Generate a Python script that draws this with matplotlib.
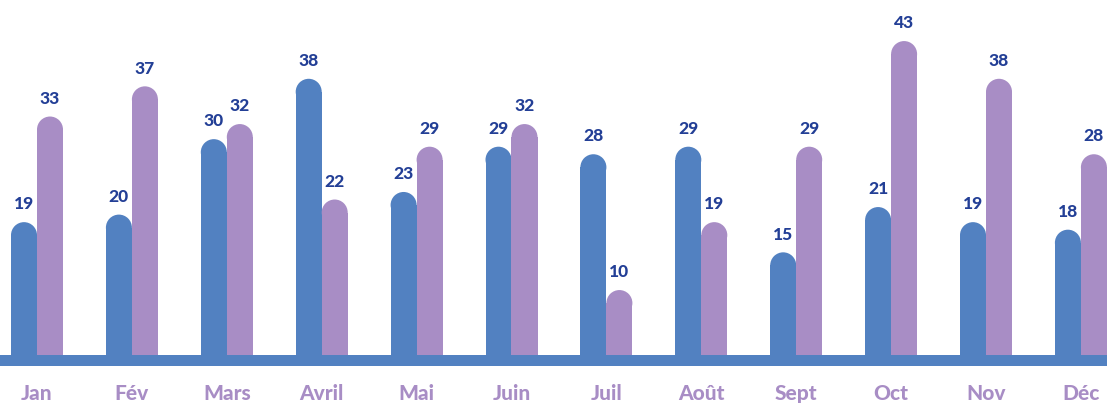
import matplotlib.pyplot as plt
from matplotlib.patches import Ellipse

months = ['Jan', 'Fév', 'Mars', 'Avril', 'Mai', 'Juin', 'Juil', 'Août', 'Sept', 'Oct', 'Nov', 'Déc']
serie_bleue = [19, 20, 30, 38, 23, 29, 28, 29, 15, 21, 19, 18]
serie_violette = [33, 37, 32, 22, 29, 32, 10, 19, 29, 43, 38, 28]

bleu = '#5281c1'
violet = '#a88dc5'
marine = '#233f96'

W, H = 1107, 406
fig = plt.figure(figsize=(W / 100, H / 100), dpi=100)
ax = fig.add_axes([0, 0, 1, 1])

# pixel geometry
px_per_unit = 7.545
y0_px = 366.5
x0_px, step_px = 37, 94.9
ax.set_xlim(-x0_px / step_px, (W - x0_px) / step_px)
ax.set_ylim((y0_px - H) / px_per_unit, y0_px / px_per_unit)
ax.axis('off')

bw = 26 / step_px          # bar width in data units
ry = 13 / px_per_unit      # cap radius (vertical) in data units

def bar_arrondie(x, v, color):
    ax.bar(x, v - ry, width=bw, color=color, linewidth=0, zorder=2)
    ax.add_patch(Ellipse((x, v - ry), bw, 2 * ry, color=color, linewidth=0, zorder=2))
    ax.annotate(str(v), (x, v), xytext=(0, 13.5), textcoords='offset points',
                ha='center', va='center', fontsize=12.5, fontweight='black',
                color=marine, family='Lato')

for i in range(len(months)):
    bar_arrondie(i - bw / 2, serie_bleue[i], bleu)
    bar_arrondie(i + bw / 2, serie_violette[i], violet)
    ax.text(i, -3.6, months[i], ha='center', va='center', fontsize=15,
            fontweight='black', color=violet, family='Lato')

# baseline
ax.axhspan(0, 11 / px_per_unit, color=bleu, linewidth=0, zorder=3)

fig.savefig('out.png', dpi=100)
